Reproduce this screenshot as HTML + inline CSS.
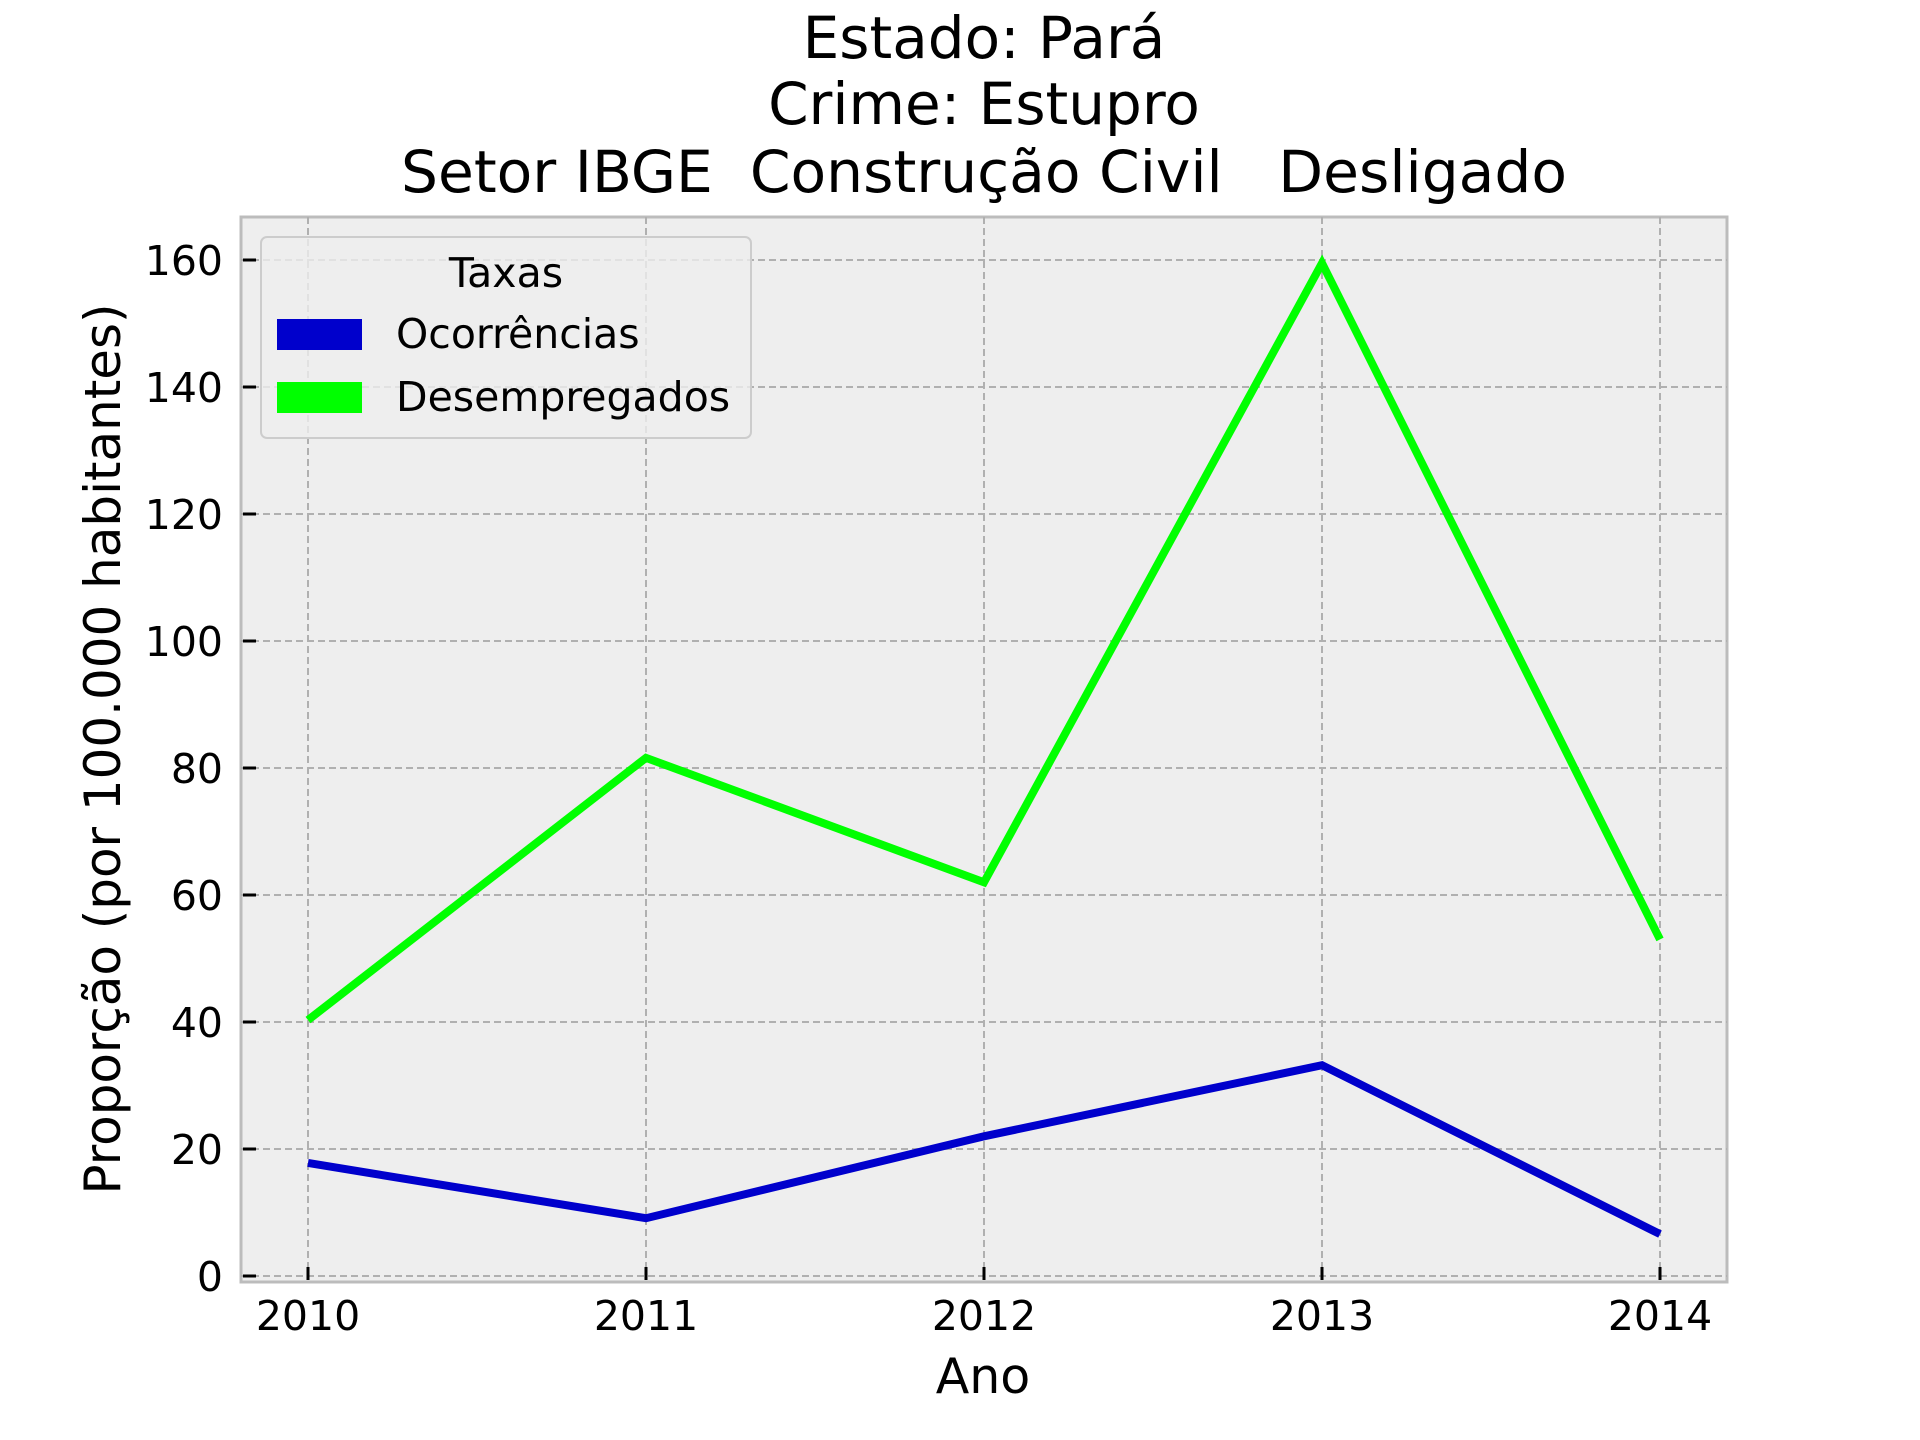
<!DOCTYPE html>
<html><head><meta charset="utf-8"><style>html,body{margin:0;padding:0;background:#fff}svg{display:block}text{font-family:"DejaVu Sans","Liberation Sans",sans-serif;fill:#000}</style></head>
<body>
<svg id="chart" width="1920" height="1440" viewBox="0 0 1920 1440" xmlns="http://www.w3.org/2000/svg">
<g>
<text x="984" y="58" font-size="58" text-anchor="middle">Estado: Pará</text>
<text x="984" y="124" font-size="58" text-anchor="middle">Crime: Estupro</text>
<text x="984" y="192" font-size="58" text-anchor="middle" xml:space="preserve" textLength="1166" lengthAdjust="spacingAndGlyphs">Setor IBGE  Construção Civil   Desligado</text>
</g>
<rect x="241" y="217" width="1486" height="1065" fill="#eeeeee" stroke="#bcbcbc" stroke-width="3"/>
<g id="grid"></g>
<g id="ticks"></g>
<g id="series"></g>
<text x="983" y="1393" font-size="49" text-anchor="middle">Ano</text>
<text transform="translate(120,749) rotate(-90)" font-size="50" text-anchor="middle" textLength="891" lengthAdjust="spacingAndGlyphs">Proporção (por 100.000 habitantes)</text>
<g>
<rect x="261" y="237" width="490" height="201" rx="6" fill="#eeeeee" fill-opacity="0.8" stroke="#cccccc" stroke-width="2"/>
<text x="506" y="287" font-size="41" text-anchor="middle">Taxas</text>
<rect x="277" y="319" width="85" height="31" fill="#0000cc"/>
<text x="396" y="348" font-size="41">Ocorrências</text>
<rect x="277" y="382" width="85" height="31" fill="#00ff00"/>
<text x="396" y="411" font-size="41">Desempregados</text>
</g>
</svg>
<script>
const years = [2010, 2011, 2012, 2013, 2014];
const ocorrencias = [17.8, 9.1, 22.0, 33.2, 6.6];
const desempregados = [40.3, 81.6, 62.0, 159.5, 53.0];
const yTicks = [0, 20, 40, 60, 80, 100, 120, 140, 160];
const yTickLabels = ["0", "20", "40", "60", "80", "100", "120", "140", "160"];
const xTickLabels = ["2010", "2011", "2012", "2013", "2014"];

const NS = "http://www.w3.org/2000/svg";
function xs(v){ return 308 + (v - 2010) * 338; }
function ys(v){ return 1276 - v * 6.35; }
function mk(tag, attrs, parent){
  const e = document.createElementNS(NS, tag);
  for (const k in attrs) e.setAttribute(k, attrs[k]);
  parent.appendChild(e);
  return e;
}
const grid = document.getElementById('grid');
const ticks = document.getElementById('ticks');
const series = document.getElementById('series');

yTicks.forEach((v, i) => {
  const g = mk('line', {x1:241, x2:1727, y1:ys(v), y2:ys(v), stroke:'#b0b0b0', 'stroke-width':2, 'stroke-dasharray':'7 4'}, grid);
  
  
  const t = mk('line', {x1:243, x2:256, y1:ys(v), y2:ys(v), stroke:'#000', 'stroke-width':3}, ticks);
  
  
  const l = mk('text', {x:223, y:ys(v) + 15, 'font-size':41, 'text-anchor':'end'}, ticks);
  l.textContent = yTickLabels[i];
  
  
});
years.forEach((v, i) => {
  const g = mk('line', {x1:xs(v), x2:xs(v), y1:217, y2:1282, stroke:'#b0b0b0', 'stroke-width':2, 'stroke-dasharray':'7 4'}, grid);
  
  
  const t = mk('line', {x1:xs(v), x2:xs(v), y1:1267, y2:1280, stroke:'#000', 'stroke-width':3}, ticks);
  
  
  const l = mk('text', {x:xs(v), y:1330, 'font-size':41, 'text-anchor':'middle'}, ticks);
  l.textContent = xTickLabels[i];
  
  
});
function drawLine(vals, color, name){
  const pts = vals.map((v, i) => xs(years[i]) + ',' + ys(v)).join(' ');
  const p = mk('polyline', {points:pts, fill:'none', stroke:color, 'stroke-width':8, 'stroke-linejoin':'miter'}, series);
  
  
}
drawLine(desempregados, '#00ff00', 'line-desempregados');
drawLine(ocorrencias, '#0000cc', 'line-ocorrencias');
</script>
</body></html>
